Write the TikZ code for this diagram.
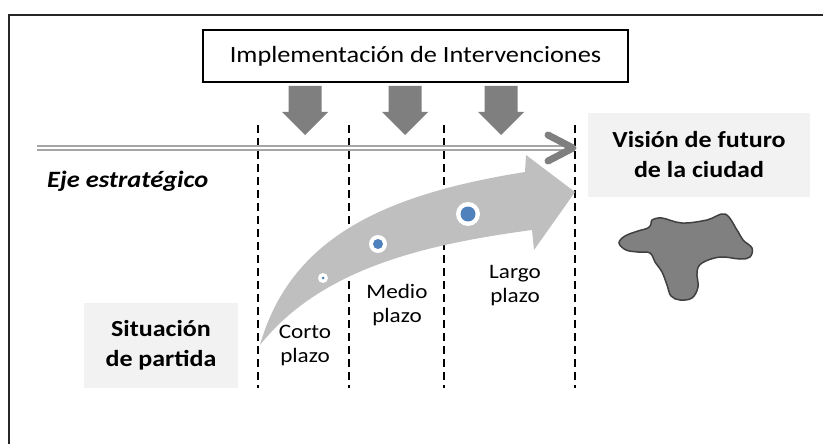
\documentclass[tikz,border=0pt]{standalone}
\usepackage{fontspec}
\setmainfont[FakeStretch=1.13]{Carlito}
\usepackage{tikz}
\usetikzlibrary{positioning}
\definecolor{arrowgrey}{HTML}{7F7F7F}
\definecolor{axisgrey}{HTML}{A6A6A6}
\definecolor{bandgrey}{HTML}{BFBFBF}
\definecolor{boxgrey}{HTML}{F2F2F2}
\definecolor{dotblue}{HTML}{4F81BD}
\definecolor{citygrey}{HTML}{808080}

\begin{document}
\begin{tikzpicture}[x = 1pt, y = -1pt]
        \tikzstyle{headbox} = [rectangle, draw, line width = 1.5, minimum width = 425, minimum height = 52, font = \fontsize{23.3}{28}\selectfont]
        \tikzstyle{greybox} = [rectangle, fill = boxgrey, align = center, font = \bfseries\fontsize{23}{30}\selectfont]
        \tikzstyle{plazotext} = [align = center, inner sep = 0, font = \fontsize{20.5}{24}\selectfont]
        \tikzstyle{period} = [black, line width = 2, dash pattern = on 8pt off 5pt]
        \useasboundingbox (0,0) rectangle (823,444);
        \draw [line width = 1.5, black!85] (823,15) -- (9,15) -- (9,444);
        \node (implem) [headbox] at (415.5,56) {Implementación de Intervenciones};
        \node (vision) [greybox, minimum width = 222, minimum height = 84] at (699,155) {Visión de futuro \\ de la ciudad};
        \node (situacion) [greybox, minimum width = 154, minimum height = 85] at (161,345.5) {Situación \\ de partida};
        \node (eje) [anchor = base west, inner sep = 0, font = \bfseries\itshape\fontsize{23.4}{28}\selectfont] at (47,187) {Eje estratégico};
        \foreach \x in {258,349,444,575}
            \draw [period] (\x,125) -- (\x,388);
        \foreach \x in {305,405,501}
            \fill [arrowgrey] (\x-16.5,86) -- (\x+16.5,86) -- (\x+16.5,112) -- (\x+23,112) -- (\x,135) -- (\x-23,112) -- (\x-16.5,112) -- cycle;
        \coordinate (ejeini) at (37,148);
        \coordinate (ejefin) at (571,148);
        \coordinate (ejetip) at (573,148);
        \draw [draw = axisgrey, line width = 2, double = white, double distance = 2.5] (ejeini) -- (ejefin);
        \draw [arrowgrey, line width = 7, line cap = round, line join = round] (ejetip) ++(-25,-13) -- (ejetip) -- ++(-25,13);
        \fill [bandgrey] (260,345) .. controls (290,240) and (380,195) .. (525,172) -- (526,155) -- (575,192) -- (534,250) -- (532,230) .. controls (420,245) and (320,270) .. (260,345) -- cycle;
        \foreach \px/\py/\r/\b in {323/278/5pt/1.5pt, 378/244/9pt/5pt, 468/214/12pt/7.5pt} {
            \fill [white] (\px,\py) circle (\r);
            \fill [dotblue] (\px,\py) circle (\b);
        }
        \node (corto) [plazotext] at (305,345) {Corto \\ plazo};
        \node (medio) [plazotext] at (397,305) {Medio \\ plazo};
        \node (largo) [plazotext] at (515,286) {Largo \\ plazo};
        \draw [fill = citygrey, draw = black!75, line width = 1.5] plot [smooth cycle, tension = 0.6] coordinates {(652,220) (662,218) (682,223) (707,220) (725,214) (737,230) (743,240) (752,248) (750,257) (740,259) (720,257) (702,263) (697,272) (698,287) (692,298) (680,300) (671,296) (667,285) (662,272) (655,262) (650,253) (638,252) (626,250) (619,243) (625,236) (638,231) (648,228) (651,224)};
    \end{tikzpicture}
\end{document}
